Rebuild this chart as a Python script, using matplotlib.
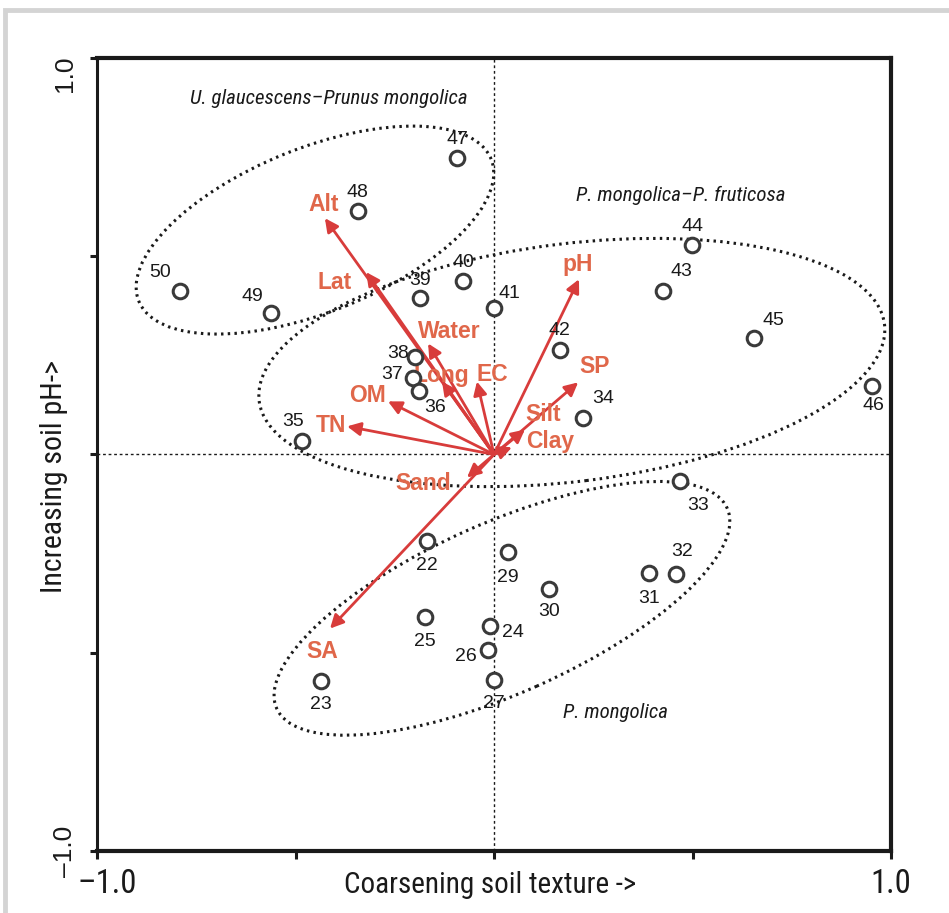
import matplotlib
matplotlib.use("Agg")
import matplotlib.pyplot as plt
from matplotlib import font_manager as fm
from matplotlib.patches import Ellipse, Rectangle

# ---------------- data ----------------
site_ids = [47, 48, 50, 49, 44, 43, 45, 46, 39, 40, 41, 42, 38, 37, 36, 35, 34,
            33, 22, 29, 30, 31, 32, 25, 24, 26, 27, 23]
site_x = [-0.093, -0.343, -0.791, -0.562, 0.499, 0.426, 0.655, 0.952, -0.186,
          -0.078, 0.000, 0.166, -0.199, -0.204, -0.189, -0.484, 0.224,
          0.469, -0.169, 0.035, 0.139, 0.390, 0.458, -0.174, -0.010, -0.015,
          0.000, -0.436]
site_y = [0.747, 0.614, 0.412, 0.356, 0.528, 0.412, 0.293, 0.174, 0.394,
          0.437, 0.369, 0.263, 0.247, 0.194, 0.159, 0.033, 0.091,
          -0.066, -0.217, -0.245, -0.338, -0.298, -0.301, -0.409, -0.432,
          -0.492, -0.568, -0.571]

env_names = ["Alt", "Lat", "Water", "Long", "EC", "OM", "TN", "Sand", "SA",
             "Silt", "Clay", "SP", "pH"]
env_x = [-0.426, -0.322, -0.166, -0.131, -0.043, -0.267, -0.370, -0.068,
         -0.413, 0.078, 0.045, 0.212, 0.214]
env_y = [0.596, 0.460, 0.280, 0.184, 0.184, 0.134, 0.071, -0.058,
         -0.439, 0.063, 0.018, 0.182, 0.442]

group_names = ["U. glaucescens\u2013Prunus mongolica",
               "P. mongolica\u2013P. fruticosa",
               "P. mongolica"]

x_ticks = [-1.0, -0.5, 0.0, 0.5, 1.0]
x_tick_labels = ["\u20131.0", "", "", "", "1.0"]
y_ticks = [-1.0, -0.5, 0.0, 0.5, 1.0]
y_tick_labels = ["\u20131.0", "", "", "", "1.0"]


# ---------------- fonts ----------------
def pick_narrow():
    tl = fm.fontManager.ttflist
    names = {f.name for f in tl}
    for fam in ["Liberation Sans Narrow", "Roboto Condensed",
                "Noto Sans Condensed", "DejaVu Sans Condensed",
                "Open Sans Condensed"]:
        if fam in names:
            return fam, "normal"
    for want in ["condensed", "semi-condensed"]:
        for fam in ["Noto Sans", "DejaVu Sans", "Open Sans", "Roboto"]:
            for f in tl:
                if f.name == fam and f.stretch == want:
                    return fam, want
    return "Liberation Sans", "normal"


NFAM, NSTRETCH = pick_narrow()
NARROW = dict(fontfamily=[NFAM, "DejaVu Sans"], fontstretch=NSTRETCH)
HELV = ["Liberation Sans", "DejaVu Sans"]
INK = "#1a1a1a"

# ---------------- layout/style ----------------
W, H = 949, 913
fig = plt.figure(figsize=(W / 100, H / 100), dpi=100)
fig.patch.set_facecolor("white")

# light grey frame around the figure
fig.patches.append(Rectangle((5 / W, -0.05), 1.2, 1 - 10 / H + 0.05,
                             transform=fig.transFigure, fill=False,
                             edgecolor="#d4d4d4", linewidth=3.5, zorder=0))

ax = fig.add_axes([97 / W, (913 - 851) / H, (891 - 97) / W, (851 - 58) / H])
ax.set_xlim(-1, 1)
ax.set_ylim(-1, 1)

for side in ["top", "right", "bottom"]:
    ax.spines[side].set_linewidth(3.0)
ax.spines["left"].set_linewidth(2.2)
for s in ax.spines.values():
    s.set_color(INK)

ax.set_xticks(x_ticks)
ax.set_xticklabels([])
ax.tick_params(axis="x", direction="out", length=6, width=2.2, colors=INK)
ax.set_yticks(y_ticks)
ax.set_yticklabels([])
ax.tick_params(axis="y", direction="out", length=5, width=2.2, colors=INK)

# x tick labels (condensed font, first one nudged right as in the original)
xtr = ax.get_xaxis_transform()
x_lab_dx = [10, 0, 0, 0, 0]
for xv, lab, ddx in zip(x_ticks, x_tick_labels, x_lab_dx):
    if lab:
        ax.annotate(lab, xy=(xv, 0), xycoords=xtr, xytext=(ddx, -33),
                    textcoords="offset pixels", ha="center", va="center",
                    fontsize=23.5, color=INK, **NARROW)

# y tick labels (rotated)
ytr = ax.get_yaxis_transform()
for yv, lab in zip(y_ticks, y_tick_labels):
    if lab:
        ax.text(-0.025, yv + (0.006 if yv > 0 else 0), lab, transform=ytr,
                rotation=90, ha="right", va="top" if yv > 0 else "center",
                fontfamily=HELV, fontsize=19, color=INK)

ax.text(0.495, -0.043, "Coarsening soil texture ->", transform=ax.transAxes,
        ha="center", va="center", fontsize=21, color=INK, **NARROW)
ax.text(-0.037, 0.472, "Increasing soil pH->", transform=ax.transAxes,
        rotation=90, ha="right", va="center", fontsize=21.5,
        color=INK, **NARROW)

# cross hairs
ax.axhline(0, color=INK, lw=1.0, ls=(0, (2, 2)), zorder=1)
ax.axvline(0, color=INK, lw=1.0, ls=(0, (2, 2)), zorder=1)

# group ellipses
ell_style = dict(fill=False, edgecolor=INK, lw=2.2,
                 ls=(0, (0.8, 1.4)), zorder=2)
ax.add_patch(Ellipse((-0.451, 0.566), 0.957, 0.413, angle=22, **ell_style))
ax.add_patch(Ellipse((0.196, 0.232), 1.587, 0.600, angle=7, **ell_style))
ax.add_patch(Ellipse((0.020, -0.388), 1.242, 0.430, angle=24, **ell_style))

grp_pos = [(-0.416, 0.899), (0.471, 0.654), (0.307, -0.650)]
for name, (gx, gy) in zip(group_names, grp_pos):
    ax.text(gx, gy, name, ha="center", va="center", style="italic",
            fontsize=15, color=INK, **NARROW)

# environmental arrows
arrow_col = "#d83c3b"
label_col = "#e0674a"
env_lab_off = {"Alt": (-1, 14), "Lat": (-32, -10), "Water": (21, 12),
               "Long": (-1, 6), "EC": (15, 7), "OM": (-21, 6),
               "TN": (-16, 1), "Sand": (-44, -6), "SA": (-8, -23),
               "Silt": (18, 15), "Clay": (38, 6), "SP": (16, 16),
               "pH": (-1, 15)}
for name, ex, ey in zip(env_names, env_x, env_y):
    ax.annotate("", xy=(ex, ey), xytext=(0, 0),
                arrowprops=dict(arrowstyle="-|>", color=arrow_col, lw=2.0,
                                mutation_scale=20, shrinkA=0, shrinkB=0),
                zorder=4)
    dx, dy = env_lab_off[name]
    ax.annotate(name, xy=(ex, ey), xytext=(dx, dy), textcoords="offset pixels",
                ha="center", va="center", fontfamily=HELV, fontweight="bold",
                fontsize=16.5, color=label_col, zorder=5)

# sites
ax.plot(site_x, site_y, ls="none", marker="o", ms=10.5, mfc="white",
        mec="#3a3a3a", mew=2.2, zorder=6)

site_off = {47: (0, 19), 48: (0, 19), 50: (-20, 19), 49: (-19, 17),
            44: (0, 19), 43: (18, 20), 45: (19, 18), 46: (1, -20),
            39: (0, 18), 40: (0, 19), 41: (15, 15), 42: (0, 20),
            38: (-17, 3), 37: (-21, 3), 36: (16, -16), 35: (-9, 20),
            34: (20, 20), 33: (18, -25), 22: (0, -25), 29: (0, -26),
            30: (0, -23), 31: (0, -26), 32: (6, 22), 25: (0, -25),
            24: (23, -7), 26: (-22, -7), 27: (0, -24), 23: (0, -24)}
for sid, sx, sy in zip(site_ids, site_x, site_y):
    dx, dy = site_off[sid]
    ax.annotate(str(sid), xy=(sx, sy), xytext=(dx, dy),
                textcoords="offset pixels", ha="center", va="center",
                fontfamily=HELV, fontsize=14, color=INK, zorder=7)

fig.savefig("out.png", dpi=100)
